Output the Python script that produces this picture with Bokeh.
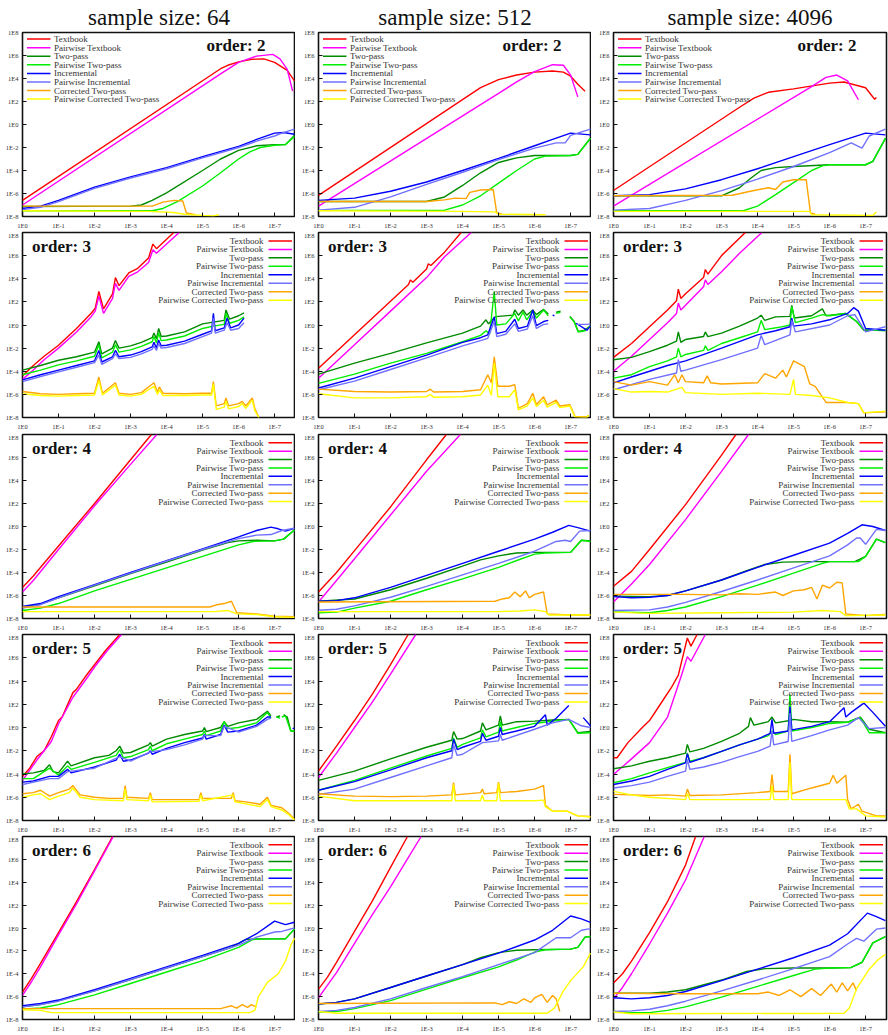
import math
from bokeh.plotting import figure
from bokeh.layouts import gridplot
from bokeh.models import Range1d, FixedTicker, CustomJSTickFormatter, Label
from bokeh.embed import file_html
from bokeh.resources import INLINE

# ---------------- data (log10 exponents) ----------------
SIZES = ["64", "512", "4096"]
ORDERS = [2, 3, 4, 5, 6]
SERIES = ["tb", "ptb", "tp", "ptp", "inc", "pinc", "ctp", "pctp"]
NAMES = ["Textbook", "Pairwise Textbook", "Two-pass", "Pairwise Two-pass",
         "Incremental", "Pairwise Incremental", "Corrected Two-pass",
         "Pairwise Corrected Two-pass"]
COLORS = ["#ff0000", "#ff00ff", "#008a00", "#00ee00",
          "#0000ff", "#7070ff", "#ffa500", "#ffff00"]
X_TICK_EXP = [0, -1, -2, -3, -4, -5, -6, -7]
Y_TICK_EXP = [8, 6, 4, 2, 0, -2, -4, -6, -8]

O2_N64 = {
    "tb": [(0, -6.6), (-5.5, 4.85), (-5.7, 5.15), (-6.0, 5.45), (-6.4, 5.68), (-6.7, 5.7), (-7.0, 5.4), (-7.35, 4.7), (-7.55, 3.8)],
    "ptb": [(0, -7.0), (-5.5, 4.4), (-6.0, 5.4), (-6.5, 5.95), (-6.95, 6.1), (-7.15, 5.7), (-7.35, 4.8), (-7.5, 2.9)],
    "tp": [(0, -7.13), (-3.0, -7.1), (-3.3, -7.0), (-3.6, -6.6), (-4, -5.95), (-5, -4.0), (-5.5, -3.0), (-6, -2.25), (-6.5, -1.85), (-7, -1.75), (-7.3, -1.75), (-7.55, -0.95)],
    "ptp": [(0, -7.5), (-3.6, -7.5), (-3.9, -7.3), (-4.3, -6.7), (-5, -5.35), (-5.5, -4.2), (-6, -3.0), (-6.3, -2.4), (-6.6, -2.0), (-7, -1.8), (-7.3, -1.75), (-7.55, -1.05)],
    "inc": [(0, -7.3), (-0.5, -7.1), (-1, -6.6), (-2, -5.45), (-3, -4.55), (-4, -3.75), (-5, -2.8), (-6, -1.9), (-6.5, -1.3), (-7, -0.75), (-7.25, -0.7), (-7.55, -0.85)],
    "pinc": [(0, -7.4), (-0.5, -7.2), (-1, -6.7), (-2, -5.55), (-3, -4.65), (-4, -3.85), (-5, -2.9), (-6, -2.0), (-6.5, -1.45), (-7, -1.0), (-7.2, -0.75), (-7.55, -0.4)],
    "ctp": [(0, -7.1), (-3.6, -7.1), (-3.9, -6.75), (-4.2, -6.6), (-4.45, -6.65), (-4.55, -7.7), (-4.8, -7.85)],
    "pctp": [(0, -7.5), (-3.5, -7.55), (-4.2, -7.65), (-4.5, -7.8), (-5.0, -7.9), (-5.3, -7.95), (-5.45, -7.85)],
}
O2_N512 = {
    "tb": [(0, -6.17), (-4.5, 3.2), (-5, 3.9), (-5.5, 4.3), (-6, 4.55), (-6.5, 4.65), (-6.8, 4.55), (-7, 4.2), (-7.2, 3.5), (-7.4, 2.9)],
    "ptb": [(0, -7.1), (-5, 2.7), (-5.5, 3.7), (-6, 4.6), (-6.5, 5.2), (-6.8, 5.15), (-7.0, 4.3), (-7.2, 2.4)],
    "tp": [(0, -6.7), (-3, -6.7), (-3.5, -6.3), (-4, -5.3), (-4.5, -4.2), (-5, -3.3), (-5.5, -2.9), (-6, -2.7), (-7, -2.7), (-7.2, -2.6), (-7.55, -1.2)],
    "ptp": [(0, -7.47), (-3.5, -7.45), (-4, -7.0), (-4.5, -6.2), (-5, -5.1), (-5.5, -4.0), (-6, -3.0), (-6.3, -2.75), (-7, -2.7), (-7.2, -2.6), (-7.55, -1.2)],
    "inc": [(0, -6.6), (-1, -6.4), (-2, -5.8), (-3, -5.0), (-4, -4.0), (-5, -2.95), (-6, -1.85), (-6.5, -1.3), (-7, -0.75), (-7.55, -0.9)],
    "pinc": [(0, -7.45), (-1, -7.2), (-2, -6.3), (-3, -5.2), (-4, -4.15), (-5, -3.05), (-6, -2.05), (-6.6, -1.6), (-6.85, -1.6), (-7.0, -0.95), (-7.55, -0.4)],
    "ctp": [(0, -6.7), (-3, -6.7), (-3.5, -6.55), (-3.8, -6.4), (-4.1, -6.45), (-4.2, -5.9), (-4.5, -5.7), (-4.85, -5.65), (-4.95, -7.7), (-5.1, -7.8)],
    "pctp": [(0, -7.5), (-4, -7.55), (-4.9, -7.6), (-5.0, -7.8), (-6.3, -7.85)],
}
O2_N4096 = {
    "tb": [(0, -5.74), (-3.5, 1.5), (-3.9, 2.3), (-4.3, 2.8), (-5, 3.1), (-6, 3.6), (-6.4, 3.7), (-7, 3.2), (-7.25, 2.2), (-7.3, 2.35)],
    "ptb": [(0, -7.1), (-5.5, 3.3), (-5.9, 4.1), (-6.2, 4.3), (-6.5, 3.8), (-6.8, 2.15)],
    "tp": [(0, -6.2), (-3, -6.2), (-3.5, -5.5), (-3.8, -4.7), (-4.1, -4.0), (-4.5, -3.75), (-5, -3.65), (-6, -3.5), (-7, -3.5), (-7.2, -3.2), (-7.55, -1.2)],
    "ptp": [(0, -7.5), (-3.6, -7.5), (-4, -7.1), (-4.5, -6.1), (-5, -5.05), (-5.5, -4.0), (-5.8, -3.6), (-6, -3.5), (-7, -3.5), (-7.2, -3.2), (-7.55, -1.2)],
    "inc": [(0, -6.2), (-1, -6.1), (-2, -5.6), (-3, -4.8), (-4, -3.85), (-5, -2.8), (-6, -1.75), (-7, -0.75), (-7.55, -0.9)],
    "pinc": [(0, -7.45), (-1, -7.3), (-2, -6.6), (-3, -5.75), (-4, -4.75), (-5, -3.65), (-6, -2.45), (-6.6, -1.6), (-6.9, -2.05), (-7.1, -1.0), (-7.55, -0.4)],
    "ctp": [(0, -6.2), (-3.3, -6.15), (-3.8, -5.8), (-4.3, -5.5), (-4.5, -5.65), (-4.7, -5.0), (-5.0, -4.8), (-5.35, -4.8), (-5.47, -7.7), (-5.6, -7.8)],
    "pctp": [(0, -7.55), (-5.45, -7.55), (-5.5, -7.85), (-7.2, -7.9), (-7.3, -7.6)],
}

O3_N64 = {
    "tb": [(0, -4.4), (-0.3, -3.5), (-0.6, -2.7), (-1.0, -1.75), (-1.5, -0.3), (-1.9, 1.0), (-2.02, 1.45), (-2.12, 2.9), (-2.25, 1.4), (-2.5, 2.7), (-2.58, 4.1), (-2.68, 3.4), (-2.95, 4.5), (-3.2, 4.9), (-3.5, 5.8), (-3.62, 7.0), (-3.72, 6.6), (-4.2, 8.0)],
    "ptb": [(0, -4.7), (-0.3, -3.9), (-0.6, -3.0), (-1.0, -2.0), (-1.5, -0.6), (-1.9, 0.7), (-2.02, 1.2), (-2.12, 2.5), (-2.25, 1.0), (-2.5, 2.3), (-2.58, 3.6), (-2.68, 3.0), (-2.95, 4.2), (-3.2, 4.6), (-3.5, 5.4), (-3.62, 6.5), (-3.72, 6.2), (-4.35, 8.0)],
    "tp": [(0, -3.9), (-0.5, -3.5), (-1.0, -3.05), (-1.5, -2.75), (-2.0, -2.35), (-2.12, -1.45), (-2.2, -2.5), (-2.5, -2.0), (-2.58, -1.35), (-2.68, -2.0), (-3.0, -1.8), (-3.3, -1.5), (-3.6, -1.1), (-3.65, -0.7), (-3.72, -1.2), (-3.78, -0.3), (-3.85, -1.0), (-4.0, -0.95), (-4.5, -0.6), (-5.0, 0.1), (-5.3, 0.25), (-5.6, 0.4), (-5.65, 1.3), (-5.75, 0.5), (-6.0, 0.8), (-6.15, 1.05)],
    "ptp": [(0, -4.3), (-0.5, -3.9), (-1.0, -3.45), (-1.5, -3.1), (-2.0, -2.7), (-2.12, -1.7), (-2.2, -2.85), (-2.5, -2.35), (-2.58, -1.7), (-2.68, -2.35), (-3.0, -2.15), (-3.3, -1.85), (-3.6, -1.45), (-3.65, -1.0), (-3.72, -1.55), (-3.78, -0.7), (-3.85, -1.35), (-4.0, -1.3), (-4.5, -0.95), (-5.0, -0.3), (-5.3, -0.1), (-5.6, 0.05), (-5.65, 1.0), (-5.75, 0.15), (-6.0, 0.4), (-6.15, 0.7)],
    "inc": [(0, -4.75), (-0.5, -4.3), (-1.0, -3.9), (-1.5, -3.5), (-2.0, -3.1), (-2.12, -2.2), (-2.2, -3.2), (-2.5, -2.75), (-2.58, -2.2), (-2.68, -2.75), (-3.0, -2.6), (-3.3, -2.3), (-3.6, -1.9), (-3.65, -1.5), (-3.72, -2.0), (-3.78, -1.3), (-3.85, -1.8), (-4.0, -1.75), (-4.5, -1.4), (-5.0, -0.8), (-5.25, -0.5), (-5.3, 1.0), (-5.35, -0.5), (-5.6, -0.25), (-5.68, 0.6), (-5.78, -0.25), (-6.0, 0.0), (-6.15, 0.6)],
    "pinc": [(0, -4.9), (-0.5, -4.45), (-1.0, -4.05), (-1.5, -3.65), (-2.0, -3.25), (-2.12, -2.6), (-2.2, -3.4), (-2.5, -2.9), (-2.58, -2.5), (-2.68, -2.9), (-3.0, -2.8), (-3.3, -2.5), (-3.6, -2.1), (-3.65, -1.8), (-3.72, -2.2), (-3.78, -1.6), (-3.85, -2.0), (-4.0, -1.95), (-4.5, -1.6), (-5.0, -1.0), (-5.25, -0.7), (-5.3, 0.6), (-5.35, -0.7), (-5.6, -0.45), (-5.68, 0.2), (-5.78, -0.45), (-6.0, -0.3), (-6.15, 0.2)],
    "ctp": [(0, -5.75), (-0.5, -5.95), (-1.0, -6.0), (-1.5, -5.95), (-2.0, -5.9), (-2.12, -4.5), (-2.22, -5.9), (-2.58, -5.0), (-2.68, -5.9), (-3.0, -6.0), (-3.3, -5.85), (-3.65, -5.0), (-3.75, -5.8), (-3.8, -5.35), (-3.9, -5.9), (-4.5, -5.95), (-5.0, -5.9), (-5.25, -5.9), (-5.3, -4.9), (-5.38, -7.0), (-5.6, -6.8), (-5.65, -6.3), (-5.72, -7.0), (-6.0, -6.8), (-6.1, -6.6), (-6.2, -7.0), (-6.38, -6.3), (-6.45, -7.2), (-6.56, -8.0)],
    "pctp": [(0, -5.95), (-0.5, -6.1), (-1.0, -6.15), (-1.5, -6.1), (-2.0, -6.05), (-2.12, -4.8), (-2.22, -6.05), (-2.58, -5.2), (-2.68, -6.05), (-3.0, -6.15), (-3.3, -6.0), (-3.65, -5.3), (-3.75, -6.0), (-3.8, -5.6), (-3.9, -6.1), (-4.5, -6.1), (-5.0, -6.05), (-5.25, -6.05), (-5.3, -5.1), (-5.38, -7.3), (-5.6, -7.1), (-5.65, -6.6), (-5.72, -7.25), (-6.0, -7.05), (-6.1, -6.8), (-6.2, -7.2), (-6.38, -6.5), (-6.45, -7.4), (-6.56, -8.0)],
}
O3_N512 = {
    "tb": [(0, -3.75), (-1, -0.85), (-2, 2.05), (-2.5, 3.5), (-2.55, 3.9), (-2.62, 3.7), (-3.0, 4.85), (-3.05, 5.3), (-3.12, 5.15), (-3.5, 6.3), (-3.96, 8.0)],
    "ptb": [(0, -4.6), (-1, -1.7), (-2, 1.2), (-3, 4.1), (-3.5, 5.9), (-4.24, 8.0)],
    "tp": [(0, -4.25), (-1, -3.3), (-2, -2.45), (-3, -1.55), (-4, -0.7), (-4.5, -0.1), (-4.65, 0.45), (-4.72, 0.1), (-4.9, 0.7), (-5.0, 0.75), (-5.4, 0.85), (-5.45, 1.3), (-5.55, 0.85), (-5.68, 1.3), (-5.78, 0.85), (-5.95, 1.3), (-6.05, 0.9), (-6.25, 1.35), (-6.38, 0.95), None, (-6.6, 1.1), (-6.72, 1.2), None, (-6.98, 0.75), (-7.1, 0.3), (-7.21, -0.55), (-7.35, -0.5), (-7.55, -0.1)],
    "ptp": [(0, -5.05), (-1, -4.25), (-2, -3.3), (-3, -2.45), (-4, -1.45), (-4.5, -0.9), (-4.65, -0.5), (-4.75, -0.8), (-4.88, 2.9), (-4.95, 0.0), (-5.2, 0.1), (-5.45, 1.0), (-5.55, 0.35), (-5.68, 1.1), (-5.78, 0.45), (-5.95, 1.2), (-6.05, 0.6), (-6.25, 1.3), (-6.38, 0.8), None, (-6.6, 1.0), (-6.72, 1.1), None, (-6.98, 0.7), (-7.1, 0.25), (-7.21, -0.6), (-7.4, -0.5), (-7.55, -0.1)],
    "inc": [(0, -5.45), (-1, -4.6), (-2, -3.6), (-3, -2.6), (-4, -1.5), (-4.5, -1.1), (-4.7, -0.85), (-4.88, 0.7), (-4.95, -0.75), (-5.2, -0.55), (-5.45, 0.5), (-5.55, -0.3), (-5.8, -0.1), (-5.95, 1.3), (-6.05, -0.05), (-6.25, 0.3), (-6.38, 0.4), None, (-6.5, 0.85), (-6.55, 0.8), None, (-7.15, 0.15), (-7.45, -0.45), (-7.55, -0.1)],
    "pinc": [(0, -5.6), (-1, -4.85), (-2, -3.85), (-3, -2.85), (-4, -1.8), (-4.5, -1.35), (-4.7, -1.15), (-4.88, 0.3), (-4.95, -1.0), (-5.2, -0.8), (-5.45, 0.1), (-5.55, -0.55), (-5.8, -0.35), (-5.95, 0.8), (-6.05, -0.3), (-6.25, 0.05), (-6.38, 0.1), None, (-7.15, 0.05), (-7.45, 0.05), (-7.55, 0.1)],
    "ctp": [(0, -5.55), (-1, -5.75), (-2, -5.8), (-3, -5.75), (-3.1, -5.55), (-3.2, -5.8), (-4, -5.75), (-4.5, -5.6), (-4.7, -4.3), (-4.8, -5.0), (-4.88, -2.75), (-4.98, -5.3), (-5.3, -5.3), (-5.45, -5.15), (-5.55, -7.2), (-5.8, -6.8), (-5.95, -5.9), (-6.05, -6.9), (-6.25, -6.2), (-6.35, -6.9), (-6.6, -6.5), (-6.7, -7.0), (-6.98, -6.9), (-7.12, -7.9), (-7.45, -7.95), (-7.5, -7.8)],
    "pctp": [(0, -5.95), (-1, -6.3), (-2, -6.3), (-3, -6.2), (-3.1, -6.0), (-3.2, -6.25), (-4, -6.2), (-4.5, -6.05), (-4.7, -5.2), (-4.8, -6.1), (-4.88, -3.3), (-4.98, -6.2), (-5.3, -6.2), (-5.45, -5.6), (-5.55, -7.35), (-5.8, -7.0), (-5.95, -6.3), (-6.05, -7.05), (-6.25, -6.5), (-6.35, -7.1), (-6.6, -6.7), (-6.7, -7.15), (-6.98, -7.0), (-7.12, -7.95), (-7.45, -8.0), (-7.5, -7.8)],
}
O3_N4096 = {
    "tb": [(0, -2.8), (-0.5, -1.6), (-1, -0.15), (-1.5, 1.3), (-1.75, 2.1), (-1.8, 3.1), (-1.87, 2.3), (-2.0, 2.7), (-2.5, 4.1), (-2.55, 4.8), (-2.62, 4.4), (-3.0, 6.0), (-3.66, 8.0)],
    "ptb": [(0, -4.0), (-0.5, -2.7), (-1, -1.25), (-1.5, 0.2), (-1.75, 1.0), (-1.8, 1.9), (-1.87, 1.3), (-2.0, 1.7), (-2.5, 3.3), (-2.55, 3.9), (-2.62, 3.5), (-3.0, 4.6), (-3.5, 6.2), (-4.12, 8.0)],
    "tp": [(0, -3.0), (-0.5, -2.8), (-1, -2.3), (-1.5, -1.75), (-1.75, -1.4), (-1.8, -0.6), (-1.87, -1.5), (-2.0, -1.25), (-2.5, -1.0), (-2.55, -0.6), (-2.62, -1.0), (-3.0, -0.7), (-3.5, -0.1), (-4.0, 0.6), (-4.1, 0.85), (-4.2, 0.4), (-4.5, 0.7), (-4.9, 0.75), (-4.95, 1.7), (-5.02, 0.6), (-5.5, 0.8), (-5.8, 1.4), (-5.9, 0.8), (-6.44, 1.0), (-6.75, 0.3), (-6.95, -0.45), (-7.55, -0.45)],
    "ptp": [(0, -4.6), (-0.5, -4.3), (-1, -3.6), (-1.5, -3.1), (-1.75, -2.75), (-1.8, -2.0), (-1.87, -2.75), (-2.0, -2.55), (-2.5, -2.2), (-2.55, -1.8), (-2.62, -2.2), (-3.0, -1.6), (-3.5, -1.1), (-4.0, -0.6), (-4.1, 0.4), (-4.2, -0.4), (-4.6, -0.2), (-4.9, 0.0), (-4.95, 1.6), (-5.05, 0.2), (-5.5, 0.6), (-5.8, 0.9), (-6.0, 0.8), (-6.44, 1.0), (-6.75, 0.3), (-6.95, -0.4), (-7.55, -0.5)],
    "inc": [(0, -5.0), (-0.5, -4.5), (-1, -4.0), (-1.5, -3.5), (-2, -3.1), (-3, -2.0), (-4, -0.85), (-4.5, -0.5), (-4.9, -0.15), (-4.95, 0.6), (-5.0, -0.1), (-5.5, 0.1), (-6, 0.45), (-6.5, 1.0), (-6.67, 1.5), (-6.8, 1.2), (-7.0, -0.3), (-7.55, -0.45)],
    "pinc": [(0, -5.6), (-1, -4.7), (-1.75, -4.15), (-1.8, -3.0), (-1.87, -4.0), (-2, -3.9), (-3, -3.0), (-4, -2.0), (-4.1, -0.9), (-4.2, -1.7), (-4.9, -0.85), (-4.95, 0.4), (-5.05, -0.6), (-6, 0.0), (-6.5, 0.8), (-6.7, 0.9), (-7.0, -0.6), (-7.55, -0.15)],
    "ctp": [(0, -4.9), (-0.5, -5.2), (-1, -4.9), (-1.5, -5.2), (-1.7, -4.3), (-1.8, -5.0), (-1.9, -4.3), (-2, -4.9), (-2.5, -5.0), (-2.6, -4.4), (-2.7, -5.0), (-3, -5.1), (-4, -5.0), (-4.2, -4.2), (-4.5, -4.6), (-4.7, -3.9), (-4.8, -4.5), (-5.0, -3.1), (-5.3, -3.6), (-5.45, -5.1), (-5.6, -5.3), (-5.75, -6.0), (-5.9, -6.7), (-6.5, -6.7), (-6.8, -6.8), (-6.95, -7.6), (-7.55, -7.5)],
    "pctp": [(0, -5.5), (-0.5, -5.8), (-1, -5.75), (-1.5, -5.8), (-1.9, -5.4), (-2, -5.85), (-3, -6.0), (-4, -5.9), (-4.9, -6.0), (-5.0, -4.7), (-5.05, -6.0), (-5.5, -6.1), (-6, -6.3), (-6.5, -6.7), (-6.8, -6.8), (-6.95, -7.6), (-7.55, -7.45)],
}

O4_N64 = {
    "tb": [(0, -5.3), (-0.3, -4.3), (-1, -1.7), (-2, 2.0), (-3, 5.8), (-3.58, 8.0)],
    "ptb": [(0, -5.7), (-0.3, -4.7), (-1, -2.0), (-2, 1.8), (-3, 5.4), (-3.73, 8.0)],
    "tp": [(0, -7.0), (-0.5, -6.75), (-1, -6.2), (-2, -5.15), (-3, -4.1), (-4, -3.1), (-5, -2.05), (-5.7, -1.4), (-6, -1.25), (-6.5, -1.2), (-7, -1.25), (-7.25, -1.1), (-7.55, -0.3)],
    "ptp": [(0, -7.3), (-0.5, -7.1), (-1, -6.7), (-2, -5.6), (-3, -4.6), (-4, -3.6), (-5, -2.6), (-6, -1.6), (-6.4, -1.3), (-7, -1.25), (-7.25, -1.1), (-7.55, -0.3)],
    "inc": [(0, -6.95), (-0.5, -6.7), (-1, -6.1), (-2, -5.05), (-3, -4.0), (-4, -2.98), (-5, -1.94), (-6, -0.9), (-6.5, -0.35), (-6.9, -0.05), (-7.1, -0.2), (-7.3, -0.4), (-7.55, -0.15)],
    "pinc": [(0, -7.1), (-0.5, -6.8), (-1, -6.2), (-2, -5.1), (-3, -4.05), (-4, -3.0), (-5, -2.0), (-6, -1.05), (-6.5, -0.75), (-6.9, -0.7), (-7.2, -0.35), (-7.55, -0.15)],
    "ctp": [(0, -7.0), (-5.2, -7.0), (-5.4, -6.8), (-5.6, -6.7), (-5.8, -6.5), (-5.95, -7.5), (-6.5, -7.6), (-7.0, -7.8), (-7.55, -7.85)],
    "pctp": [(0, -7.4), (-5.3, -7.4), (-5.7, -7.3), (-5.95, -7.6), (-6.5, -7.65), (-7.0, -7.85), (-7.55, -7.9)],
}
O4_N512 = {
    "tb": [(0, -5.7), (-0.5, -4.0), (-1, -2.1), (-2, 1.7), (-3, 5.8), (-3.55, 8.0)],
    "ptb": [(0, -6.56), (-0.5, -4.7), (-1, -2.8), (-2, 1.0), (-3, 4.8), (-3.94, 8.0)],
    "tp": [(0, -6.5), (-1, -6.3), (-2, -5.5), (-3, -4.5), (-4, -3.45), (-4.5, -2.9), (-5, -2.55), (-5.5, -2.3), (-6, -2.25), (-7, -2.25), (-7.3, -1.2), (-7.55, -1.25)],
    "ptp": [(0, -7.5), (-0.5, -7.45), (-1, -7.1), (-2, -6.5), (-3, -5.5), (-4, -4.55), (-5, -3.55), (-5.6, -2.85), (-6, -2.4), (-6.3, -2.3), (-7, -2.25), (-7.3, -1.2), (-7.55, -1.3)],
    "inc": [(0, -6.5), (-0.5, -6.45), (-1, -6.2), (-2, -5.3), (-3, -4.25), (-4, -3.2), (-5, -2.15), (-6, -1.1), (-6.5, -0.5), (-6.95, 0.1), (-7.2, -0.1), (-7.55, -0.4)],
    "pinc": [(0, -7.28), (-0.5, -7.2), (-1, -6.9), (-2, -6.15), (-3, -5.2), (-4, -4.2), (-5, -3.2), (-6, -2.15), (-6.6, -1.3), (-6.85, -1.2), (-7.0, -1.3), (-7.25, -0.4), (-7.55, -0.35)],
    "ctp": [(0, -6.56), (-4.9, -6.5), (-5.1, -6.3), (-5.3, -6.2), (-5.45, -5.7), (-5.6, -6.1), (-5.75, -5.6), (-5.85, -6.2), (-6.0, -5.9), (-6.25, -5.7), (-6.35, -7.6), (-7.0, -7.7), (-7.55, -7.7)],
    "pctp": [(0, -7.4), (-5, -7.4), (-5.6, -7.35), (-6.0, -7.25), (-6.3, -7.4), (-6.4, -7.7), (-7.55, -7.7)],
}
O4_N4096 = {
    "tb": [(0, -5.2), (-0.5, -3.9), (-1, -2.0), (-2, 1.9), (-3, 6.2), (-3.4, 8.0)],
    "ptb": [(0, -6.56), (-0.5, -5.0), (-1, -3.3), (-2, 0.6), (-3, 4.8), (-3.75, 8.0)],
    "tp": [(0, -6.05), (-1, -6.1), (-1.5, -6.0), (-2, -5.6), (-3, -4.65), (-3.7, -3.85), (-4.2, -3.3), (-4.7, -3.1), (-5.5, -3.05), (-6.7, -3.05), (-7.0, -2.6), (-7.3, -1.1), (-7.55, -1.4)],
    "ptp": [(0, -7.42), (-1, -7.5), (-1.5, -7.3), (-2, -7.0), (-3, -6.1), (-4, -5.1), (-5, -4.05), (-5.8, -3.2), (-6, -3.05), (-6.8, -3.05), (-7.0, -2.6), (-7.3, -1.1), (-7.55, -1.4)],
    "inc": [(0, -6.1), (-0.5, -6.2), (-1, -6.15), (-1.5, -6.0), (-2, -5.6), (-3, -4.65), (-4, -3.55), (-5, -2.5), (-6, -1.45), (-6.5, -0.6), (-6.9, 0.15), (-7.2, 0.0), (-7.55, -0.35)],
    "pinc": [(0, -7.3), (-1, -7.25), (-1.5, -7.0), (-2, -6.6), (-3, -5.65), (-4, -4.65), (-5, -3.6), (-6, -2.55), (-6.5, -1.6), (-6.75, -1.0), (-6.85, -1.0), (-7.0, -1.55), (-7.3, -0.25), (-7.55, -0.35)],
    "ctp": [(0, -5.9), (-2, -5.9), (-3, -5.95), (-3.5, -5.85), (-4, -5.9), (-4.5, -5.7), (-4.7, -6.0), (-5.0, -5.6), (-5.3, -5.5), (-5.5, -5.3), (-5.65, -6.3), (-5.8, -5.1), (-6.0, -5.35), (-6.2, -4.85), (-6.35, -4.9), (-6.45, -7.6), (-7.0, -7.75), (-7.55, -7.65)],
    "pctp": [(0, -7.45), (-1, -7.55), (-3, -7.5), (-5, -7.45), (-5.8, -7.3), (-6.3, -7.4), (-6.45, -7.75), (-7.55, -7.7)],
}

O5_N64 = {
    "tb": [(0, -4.2), (-0.2, -3.5), (-0.4, -2.5), (-0.6, -2.0), (-0.8, -0.8), (-1.0, 0.6), (-1.1, 0.9), (-1.4, 3.0), (-1.5, 3.3), (-1.8, 4.6), (-2.0, 5.4), (-2.3, 6.6), (-2.7, 8.0)],
    "ptb": [(0, -4.55), (-0.4, -2.8), (-0.8, -1.2), (-1.0, 0.3), (-1.4, 2.6), (-1.8, 4.3), (-2.0, 5.2), (-2.35, 6.6), (-2.75, 8.0)],
    "tp": [(0, -4.0), (-0.3, -3.9), (-0.6, -3.7), (-0.75, -3.2), (-0.85, -3.8), (-1.0, -3.9), (-1.25, -2.9), (-1.35, -3.3), (-2.0, -2.6), (-2.4, -2.4), (-2.6, -2.0), (-2.7, -1.6), (-2.8, -2.2), (-3.0, -2.15), (-3.5, -1.5), (-3.55, -1.3), (-3.6, -1.6), (-4.0, -1.0), (-4.5, -0.6), (-5.0, -0.3), (-5.05, 0.0), (-5.1, -0.35), (-5.5, 0.0), (-5.6, 0.5), (-5.7, 0.1), (-6.0, 0.4), (-6.5, 0.7), (-6.8, 1.4), (-6.9, 1.0), None, (-7.05, 0.9), (-7.15, 1.0), None, (-7.25, 1.1), (-7.35, 0.9), (-7.45, -0.3), (-7.55, -0.3)],
    "ptp": [(0, -4.4), (-0.3, -4.4), (-0.75, -3.5), (-1.0, -4.1), (-1.25, -3.3), (-1.35, -3.6), (-2.0, -3.0), (-2.6, -2.4), (-2.7, -1.9), (-2.8, -2.6), (-3.0, -2.5), (-3.5, -1.9), (-3.55, -1.6), (-3.6, -2.0), (-4.0, -1.4), (-4.5, -1.0), (-5.0, -0.6), (-5.05, -0.3), (-5.1, -0.7), (-5.5, -0.3), (-5.6, 0.5), (-5.7, -0.1), (-6.0, 0.0), (-6.5, 0.4), (-6.8, 1.3), (-6.9, 0.8), None, (-7.05, 0.9), (-7.15, 0.8), None, (-7.2, 0.9), (-7.3, 1.0), (-7.45, -0.3), (-7.55, -0.3)],
    "inc": [(0, -4.7), (-0.3, -4.6), (-0.75, -4.2), (-1.0, -4.2), (-1.25, -3.6), (-1.35, -3.9), (-2.0, -3.4), (-2.6, -2.8), (-2.7, -2.3), (-2.8, -2.9), (-3.0, -2.8), (-3.5, -2.2), (-3.55, -2.0), (-3.6, -2.3), (-4.0, -1.8), (-4.5, -1.3), (-5.0, -0.9), (-5.05, -0.6), (-5.1, -1.0), (-5.5, -0.6), (-5.6, 0.2), (-5.7, -0.4), (-6.0, -0.3), (-6.5, 0.2), (-6.8, 0.9), (-6.9, 0.9), None, (-7.5, -0.1), (-7.55, -0.05)],
    "pinc": [(0, -4.9), (-0.75, -4.4), (-1.0, -4.4), (-1.25, -3.8), (-2.0, -3.5), (-2.7, -2.5), (-3.0, -2.9), (-3.55, -2.1), (-4.0, -1.9), (-4.5, -1.5), (-5.0, -1.0), (-5.05, -0.7), (-5.5, -0.7), (-5.6, 0.1), (-6.0, -0.4), (-6.5, 0.1), (-6.8, 0.7), (-6.9, 0.8)],
    "ctp": [(0, -5.7), (-0.3, -5.6), (-0.5, -5.4), (-0.75, -5.9), (-1.0, -5.6), (-1.3, -5.3), (-1.4, -5.0), (-1.6, -5.8), (-2.0, -6.0), (-2.4, -6.1), (-2.8, -6.1), (-2.85, -5.0), (-2.9, -6.0), (-3.5, -6.1), (-3.55, -5.6), (-3.6, -6.2), (-4.0, -6.2), (-4.9, -6.2), (-4.95, -5.6), (-5.0, -6.1), (-5.8, -6.1), (-5.85, -5.6), (-5.9, -6.3), (-6.2, -6.4), (-6.6, -6.6), (-6.8, -6.0), (-6.9, -6.7), (-7.2, -6.9), (-7.4, -7.4), (-7.55, -7.9)],
    "pctp": [(0, -6.0), (-0.3, -5.8), (-0.5, -5.7), (-0.75, -6.2), (-1.0, -5.9), (-1.3, -5.6), (-1.4, -5.2), (-1.6, -6.0), (-2.0, -6.2), (-2.8, -6.3), (-2.85, -5.3), (-2.9, -6.2), (-3.5, -6.3), (-3.55, -5.8), (-3.6, -6.4), (-4.9, -6.35), (-4.95, -5.8), (-5.0, -6.3), (-5.85, -5.8), (-5.9, -6.4), (-6.6, -6.8), (-6.8, -6.2), (-6.9, -6.8), (-7.2, -7.1), (-7.4, -7.5), (-7.55, -7.95)],
}
O5_N512 = {
    "tb": [(0, -3.75), (-0.5, -1.6), (-1, 0.6), (-1.5, 2.9), (-2, 5.4), (-2.49, 8.0)],
    "ptb": [(0, -4.3), (-0.5, -2.2), (-1, 0.0), (-1.5, 2.2), (-2, 4.6), (-2.7, 8.0)],
    "tp": [(0, -4.55), (-1, -3.75), (-2, -2.7), (-3, -1.7), (-3.7, -1.1), (-3.75, -0.35), (-3.85, -1.0), (-4.0, -0.95), (-4.5, -0.3), (-4.55, 0.4), (-4.65, -0.2), (-5.0, 0.2), (-5.05, 1.0), (-5.1, 0.2), (-5.5, 0.5), (-6.0, 0.55), (-6.5, 0.65), (-6.95, 0.7), (-7.2, -0.45), (-7.55, -0.35)],
    "ptp": [(0, -5.4), (-1, -4.55), (-2, -3.5), (-3, -2.45), (-3.7, -1.8), (-3.75, -0.9), (-3.85, -1.7), (-4, -1.45), (-4.5, -0.9), (-4.55, -0.2), (-4.65, -0.8), (-5.0, -0.4), (-5.05, 0.5), (-5.1, -0.3), (-5.5, 0.0), (-6.0, 0.35), (-6.5, 0.55), (-6.95, 0.7), (-7.2, -0.5), (-7.55, -0.45)],
    "inc": [(0, -5.4), (-1, -4.65), (-2, -3.65), (-3, -2.6), (-3.7, -2.0), (-3.75, -1.0), (-3.85, -1.9), (-4, -1.7), (-4.5, -1.2), (-4.55, -0.5), (-4.65, -1.1), (-5.0, -0.75), (-5.05, 0.0), (-5.1, -0.6), (-5.5, -0.3), (-6.0, 0.1), (-6.3, 1.1), (-6.35, 0.2), (-6.6, 0.8), (-6.95, 1.9), None, (-7.35, 0.85), (-7.55, 0.15)],
    "pinc": [(0, -5.75), (-1, -5.3), (-2, -4.3), (-3, -3.3), (-3.7, -2.6), (-3.75, -1.5), (-3.85, -2.4), (-4, -2.3), (-4.55, -1.3), (-5.0, -1.15), (-5.05, -0.6), (-5.1, -1.1), (-6.0, -0.15), (-6.5, 0.4), (-6.95, 0.7), (-7.3, 0.15), (-7.55, 0.0)],
    "ctp": [(0, -5.7), (-1, -5.9), (-2, -5.95), (-3, -5.9), (-3.7, -5.8), (-3.75, -4.75), (-3.8, -5.8), (-4.5, -5.6), (-4.55, -5.3), (-4.6, -5.7), (-4.95, -5.6), (-5.0, -4.7), (-5.05, -5.6), (-5.5, -5.5), (-6.0, -5.3), (-6.25, -5.0), (-6.3, -6.7), (-6.5, -7.2), (-6.9, -7.2), (-7.2, -7.6), (-7.55, -7.65)],
    "pctp": [(0, -5.9), (-1, -6.3), (-2, -6.3), (-3, -6.3), (-3.7, -6.3), (-3.75, -4.9), (-3.8, -6.3), (-4.5, -6.3), (-4.55, -5.8), (-4.6, -6.3), (-4.95, -6.3), (-5.0, -4.8), (-5.05, -6.3), (-6.0, -6.3), (-6.25, -6.25), (-6.3, -6.8), (-6.5, -7.2), (-6.9, -7.2), (-7.2, -7.6), (-7.55, -7.7)],
}
O5_N4096 = {
    "tb": [(0, -2.6), (-0.1, -2.6), (-0.4, -1.3), (-0.8, 0.0), (-1.0, 0.6), (-1.3, 2.0), (-1.6, 3.4), (-1.8, 4.5), (-2.05, 7.7), (-2.15, 7.0), (-2.32, 8.0)],
    "ptb": [(0, -4.05), (-0.5, -2.7), (-1, -1.3), (-1.5, 0.9), (-1.9, 4.6), (-2.05, 6.1), (-2.15, 5.7), (-2.55, 8.0)],
    "tp": [(0, -3.55), (-0.5, -3.3), (-1, -2.9), (-1.5, -2.6), (-2, -2.2), (-2.05, -1.45), (-2.12, -2.1), (-2.5, -1.8), (-3, -1.2), (-3.5, -0.5), (-3.75, 0.1), (-3.8, 0.85), (-3.9, 0.2), (-4.3, 0.5), (-4.4, 0.9), (-4.5, 0.4), (-4.9, 0.6), (-5.0, 0.7), (-5.5, 0.5), (-6.0, 0.5), (-6.5, 0.45), (-6.85, 0.9), (-7.1, -0.15), (-7.55, -0.45)],
    "ptp": [(0, -4.75), (-0.5, -4.4), (-1, -3.9), (-1.5, -3.45), (-2, -3.0), (-2.05, -2.2), (-2.12, -2.9), (-2.5, -2.6), (-3, -2.05), (-3.5, -1.5), (-4, -1.0), (-4.3, -0.7), (-4.4, -0.3), (-4.5, -0.6), (-4.85, -0.3), (-4.9, 2.85), (-4.95, -0.3), (-5.5, 0.0), (-6, 0.35), (-6.5, 0.45), (-6.85, 0.85), (-7.1, -0.45), (-7.55, -0.45)],
    "inc": [(0, -4.9), (-0.5, -4.6), (-1, -4.2), (-1.5, -3.6), (-2, -3.05), (-2.05, -2.25), (-2.12, -3.0), (-2.5, -2.6), (-3, -2.05), (-3.5, -1.5), (-4, -1.0), (-4.35, -0.5), (-4.4, 0.7), (-4.45, -0.5), (-4.85, -0.3), (-4.9, 1.8), (-4.95, -0.2), (-5.5, 0.1), (-6, 0.5), (-6.4, 1.7), (-6.45, 0.9), (-6.6, 1.3), (-6.95, 2.1), (-7.2, 1.3), (-7.55, 0.1)],
    "pinc": [(0, -5.2), (-0.5, -5.0), (-1, -4.7), (-1.5, -4.2), (-2, -3.75), (-2.05, -2.75), (-2.12, -3.6), (-2.5, -3.4), (-3, -3.0), (-3.5, -2.5), (-4, -2.05), (-4.35, -1.6), (-4.4, -0.3), (-4.45, -1.5), (-4.85, -1.2), (-4.9, 1.25), (-4.95, -1.2), (-5.5, -0.7), (-6, -0.2), (-6.5, 0.2), (-6.8, 0.85), (-7.1, -0.1), (-7.55, 0.0)],
    "ctp": [(0, -5.75), (-0.5, -5.8), (-1, -5.85), (-1.5, -5.8), (-2, -5.9), (-2.05, -5.3), (-2.12, -5.85), (-3, -5.8), (-4, -5.6), (-4.35, -5.5), (-4.4, -4.05), (-4.45, -5.5), (-4.85, -5.5), (-4.9, -2.3), (-4.95, -5.7), (-5.5, -5.2), (-6.0, -4.8), (-6.1, -4.1), (-6.2, -4.8), (-6.45, -4.1), (-6.5, -6.2), (-6.6, -7.0), (-6.8, -6.6), (-6.9, -7.2), (-7.3, -7.6), (-7.55, -7.6)],
    "pctp": [(0, -5.5), (-0.5, -5.8), (-1, -6.0), (-2, -6.2), (-2.05, -5.7), (-2.12, -6.2), (-3, -6.2), (-4, -6.2), (-4.35, -6.2), (-4.4, -5.0), (-4.45, -6.2), (-4.85, -6.2), (-4.9, -3.0), (-4.95, -6.2), (-5.5, -6.2), (-6.0, -6.2), (-6.45, -6.2), (-6.55, -7.0), (-6.75, -7.0), (-7.0, -7.6), (-7.55, -7.7)],
}

O6_N64 = {
    "tb": [(0, -5.6), (-0.25, -4.4), (-0.5, -3.1), (-1, -0.4), (-1.5, 2.3), (-2, 5.1), (-2.5, 8.0)],
    "ptb": [(0, -5.9), (-0.25, -4.7), (-0.5, -3.4), (-1, -0.6), (-1.5, 2.1), (-2, 5.0), (-2.52, 8.0)],
    "tp": [(0, -6.9), (-0.5, -6.7), (-1, -6.35), (-2, -5.5), (-3, -4.5), (-4, -3.5), (-5, -2.5), (-5.8, -1.7), (-6.2, -1.0), (-6.5, -0.95), (-7.0, -0.95), (-7.3, -0.95), (-7.55, -0.1)],
    "ptp": [(0, -7.1), (-0.5, -7.0), (-1, -6.7), (-2, -5.85), (-3, -4.85), (-4, -3.85), (-5, -2.85), (-6, -1.7), (-6.4, -1.0), (-7.0, -0.95), (-7.3, -0.95), (-7.55, -0.1)],
    "inc": [(0, -6.8), (-0.5, -6.6), (-1, -6.3), (-2, -5.4), (-3, -4.4), (-4, -3.4), (-5, -2.4), (-6, -1.35), (-6.5, -0.5), (-7.0, 0.6), (-7.3, 0.3), (-7.55, 0.5)],
    "pinc": [(0, -6.9), (-0.5, -6.7), (-1, -6.4), (-2, -5.5), (-3, -4.5), (-4, -3.5), (-5, -2.5), (-6, -1.5), (-6.5, -0.8), (-7.0, -0.35), (-7.2, -0.3), (-7.55, 0.0)],
    "ctp": [(0, -7.05), (-5.5, -7.05), (-5.8, -6.8), (-5.95, -7.0), (-6.1, -6.7), (-6.25, -6.95), (-6.35, -6.7), (-6.5, -6.9)],
    "pctp": [(0, -7.15), (-0.5, -7.2), (-0.8, -7.4), (-6.3, -7.4), (-6.45, -7.2), (-6.55, -6.0), (-6.8, -4.75), (-7.1, -4.0), (-7.3, -2.9), (-7.45, -1.5), (-7.55, -0.9)],
}
O6_N512 = {
    "tb": [(0, -5.35), (-0.25, -4.3), (-0.5, -3.0), (-1, -0.3), (-1.5, 2.4), (-2, 5.3), (-2.47, 8.0)],
    "ptb": [(0, -6.1), (-0.25, -5.0), (-0.5, -3.9), (-1, -1.35), (-1.5, 1.2), (-2, 3.6), (-2.5, 6.2), (-2.85, 8.0)],
    "tp": [(0, -6.65), (-0.5, -6.5), (-1, -6.2), (-2, -5.2), (-3, -4.2), (-4, -3.2), (-4.5, -2.6), (-5, -2.15), (-5.5, -1.95), (-6, -1.9), (-7, -1.85), (-7.2, -1.7), (-7.4, -0.8), (-7.55, -0.75)],
    "ptp": [(0, -7.35), (-0.5, -7.3), (-1, -7.05), (-2, -6.35), (-3, -5.35), (-4, -4.35), (-5, -3.4), (-5.5, -2.8), (-6, -2.1), (-6.3, -1.9), (-7, -1.85), (-7.2, -1.7), (-7.4, -0.8), (-7.55, -0.75)],
    "inc": [(0, -6.65), (-0.5, -6.5), (-1, -6.2), (-2, -5.2), (-3, -4.2), (-4, -3.2), (-5, -2.2), (-6, -1.05), (-6.5, -0.2), (-7.0, 1.05), (-7.3, 0.8), (-7.55, 0.5)],
    "pinc": [(0, -7.3), (-0.5, -7.2), (-1, -6.95), (-2, -6.2), (-3, -5.2), (-4, -4.25), (-5, -3.2), (-6, -2.15), (-6.6, -0.85), (-7.0, -0.85), (-7.3, -0.2), (-7.55, -0.05)],
    "ctp": [(0, -6.6), (-4.9, -6.55), (-5.1, -6.7), (-5.3, -6.45), (-5.5, -6.6), (-5.7, -6.2), (-5.9, -6.5), (-6.0, -6.1), (-6.2, -5.8), (-6.35, -6.5), (-6.5, -5.9), (-6.6, -6.2), (-6.7, -7.3)],
    "pctp": [(0, -7.3), (-0.5, -7.45), (-6.35, -7.45), (-6.55, -7.0), (-6.8, -5.5), (-7.0, -4.6), (-7.2, -3.9), (-7.35, -3.4), (-7.55, -2.2)],
}
O6_N4096 = {
    "tb": [(0, -4.8), (-0.25, -4.0), (-0.5, -2.9), (-1, -0.4), (-1.5, 2.3), (-2, 5.5), (-2.28, 8.0)],
    "ptb": [(0, -6.2), (-0.25, -5.2), (-0.5, -4.0), (-1, -1.4), (-1.5, 1.3), (-2, 4.2), (-2.52, 8.0)],
    "tp": [(0, -5.7), (-1, -5.7), (-1.5, -5.6), (-2, -5.4), (-3, -4.55), (-3.7, -3.8), (-4.2, -3.55), (-5, -3.5), (-6, -3.5), (-6.6, -3.45), (-6.9, -3.0), (-7.2, -1.3), (-7.55, -0.75)],
    "ptp": [(0, -7.3), (-0.5, -7.4), (-1, -7.4), (-1.5, -7.2), (-2, -6.9), (-3, -6.05), (-4, -5.1), (-5, -4.15), (-5.6, -3.6), (-6, -3.5), (-6.6, -3.45), (-6.9, -3.0), (-7.2, -1.3), (-7.55, -0.75)],
    "inc": [(0, -6.1), (-0.5, -6.2), (-1, -6.1), (-1.5, -5.9), (-2, -5.55), (-3, -4.6), (-4, -3.6), (-5, -2.6), (-6, -1.5), (-6.5, -0.5), (-7.05, 1.3), (-7.3, 1.0), (-7.55, 0.65)],
    "pinc": [(0, -7.3), (-0.5, -7.25), (-1, -7.1), (-1.5, -6.8), (-2, -6.4), (-3, -5.5), (-4, -4.55), (-5, -3.55), (-6, -2.5), (-6.5, -1.4), (-6.75, -0.9), (-6.95, -1.15), (-7.3, -0.1), (-7.55, 0.0)],
    "ctp": [(0, -5.7), (-2, -5.75), (-4, -5.75), (-4.3, -5.6), (-4.6, -5.9), (-4.9, -5.4), (-5.2, -6.0), (-5.5, -5.3), (-5.75, -5.9), (-6.05, -4.9), (-6.2, -5.6), (-6.35, -4.8), (-6.5, -5.5), (-6.65, -4.8), (-6.75, -5.5)],
    "pctp": [(0, -7.35), (-0.5, -7.5), (-6.4, -7.45), (-6.55, -7.0), (-6.75, -5.3), (-7.1, -3.6), (-7.35, -2.75), (-7.55, -2.3)],
}

PANELS = {
    (2, "64"): O2_N64, (2, "512"): O2_N512, (2, "4096"): O2_N4096,
    (3, "64"): O3_N64, (3, "512"): O3_N512, (3, "4096"): O3_N4096,
    (4, "64"): O4_N64, (4, "512"): O4_N512, (4, "4096"): O4_N4096,
    (5, "64"): O5_N64, (5, "512"): O5_N512, (5, "4096"): O5_N4096,
    (6, "64"): O6_N64, (6, "512"): O6_N512, (6, "4096"): O6_N4096,
}

# ---------------- layout / style ----------------
XL, XR = 0.0, -7.58     # log10 of the x range (reversed)
YB, YT = -8.0, 8.0
FW = 273
COL_LEFT = [22, 23, 22]
COL_RIGHT = [0, 0, 2]
ROW_TOP = [32, 1, 1, 1, 1]
ROW_FH = [184, 185, 186, 187, 185]
ROW_BOTTOM = [15, 16, 13, 14, 13]
FONT = "Liberation Serif"
NAN = float("nan")


def to_xy(pts):
    xs, ys = [], []
    for pt in pts:
        if pt is None:
            xs.append(NAN)
            ys.append(NAN)
        else:
            xs.append(10.0 ** pt[0])
            ys.append(10.0 ** pt[1])
    return xs, ys


def fxv(px):
    return 10.0 ** (XL + (px / FW) * (XR - XL))


def fyv(py, fh):
    return 10.0 ** (YT - (py / fh) * (YT - YB))


fmt = CustomJSTickFormatter(code="return '1E' + Math.round(Math.log10(tick));")

rows = []
for r, order in enumerate(ORDERS):
    row = []
    fh = ROW_FH[r]
    for c, size in enumerate(SIZES):
        p = figure(width=COL_LEFT[c] + FW + COL_RIGHT[c],
                   height=ROW_TOP[r] + fh + ROW_BOTTOM[r],
                   x_axis_type="log", y_axis_type="log",
                   x_range=Range1d(10.0 ** XL, 10.0 ** XR),
                   y_range=Range1d(10.0 ** YB, 10.0 ** YT),
                   output_backend="svg", toolbar_location=None,
                   min_border_left=COL_LEFT[c], min_border_right=COL_RIGHT[c],
                   min_border_top=ROW_TOP[r], min_border_bottom=ROW_BOTTOM[r],
                   title=("sample size: " + size) if r == 0 else None)
        if r == 0:
            p.title.align = "center"
            p.title.text_font = FONT
            p.title.text_font_style = "normal"
            p.title.text_font_size = "23px"
            p.title.text_color = "#111111"
            p.title.standoff = 5
        p.background_fill_color = "white"
        p.border_fill_color = "white"
        p.outline_line_color = "#111111"
        p.outline_line_width = 1.6
        p.xgrid.visible = False
        p.ygrid.visible = False
        p.xaxis.ticker = FixedTicker(ticks=[10.0 ** e for e in X_TICK_EXP], minor_ticks=[])
        p.yaxis.ticker = FixedTicker(ticks=[10.0 ** e for e in Y_TICK_EXP], minor_ticks=[])
        for ax in (p.xaxis[0], p.yaxis[0]):
            ax.formatter = fmt
            ax.axis_line_color = None
            ax.major_tick_in = 4
            ax.major_tick_out = 0
            ax.major_tick_line_color = "#111111"
            ax.minor_tick_line_color = None
            ax.major_label_text_font = FONT
            ax.major_label_text_font_size = "6.5px"
            ax.major_label_text_color = "#333333"
        p.xaxis.major_label_standoff = 5
        p.yaxis.major_label_standoff = 4

        data = PANELS[(order, size)]
        for key, color in zip(SERIES, COLORS):
            xs, ys = to_xy(data[key])
            p.line(xs, ys, line_color=color, line_width=1.4)

        # legend (drawn by hand: gnuplot style)
        for i, (name, color) in enumerate(zip(NAMES, COLORS)):
            if r == 0:
                yy = fyv(6.6 + 8.57 * i, fh)
                p.line([fxv(4.5), fxv(28)], [yy, yy], line_color=color, line_width=1.5)
                p.add_layout(Label(x=fxv(31.5), y=yy, text=name, text_font=FONT,
                                   text_font_size="9px", text_color="#333333",
                                   text_align="left", text_baseline="middle"))
            else:
                yy = fyv(8.4 + 8.48 * i, fh)
                p.line([fxv(FW - 27), fxv(FW - 3.5)], [yy, yy], line_color=color, line_width=1.5)
                p.add_layout(Label(x=fxv(FW - 32), y=yy, text=name, text_font=FONT,
                                   text_font_size="9px", text_color="#333333",
                                   text_align="right", text_baseline="middle"))
        if r == 0:
            p.add_layout(Label(x=fxv(243), y=fyv(12.6, fh), text="order: %d" % order,
                               text_font=FONT, text_font_size="17px", text_font_style="bold",
                               text_color="#111111", text_align="right", text_baseline="middle"))
        else:
            p.add_layout(Label(x=fxv(9.4), y=fyv(13.8, fh), text="order: %d" % order,
                               text_font=FONT, text_font_size="17px", text_font_style="bold",
                               text_color="#111111", text_align="left", text_baseline="middle"))
        row.append(p)
    rows.append(row)

grid = gridplot(rows, toolbar_location=None)
open("out.html", "w").write(file_html(grid, INLINE))
